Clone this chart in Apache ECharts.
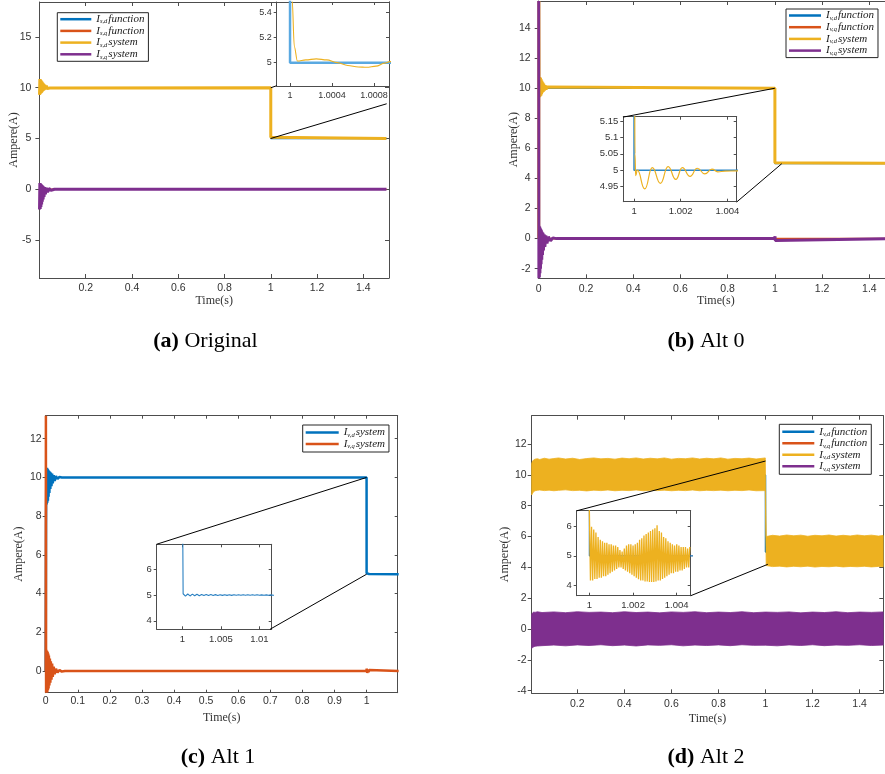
<!DOCTYPE html>
<html>
<head>
<meta charset="utf-8">
<script src="https://cdn.jsdelivr.net/npm/echarts@6/dist/echarts.min.js"></script>
<style>
  html, body { margin: 0; padding: 0; background: #fff; }
  #chart { width: 885px; height: 774px; }
</style>
</head>
<body>
<div id="chart"></div>
<script>
// ---------- (a) Original ----------
const aTickX = [0.2, 0.4, 0.6, 0.8, 1, 1.2, 1.4];
const aTickY = [-5, 0, 5, 10, 15];
const aInsetTickX = [1, 1.0004, 1.0008];
const aInsetTickY = [5, 5.2, 5.4];
const aFnDTime = [0, 1, 1, 1.5];
const aFnD = [10, 10, 5, 5];
const aFnQTime = [0, 1.5];
const aFnQ = [0, 0];
const aSysDTime = [0.0005, 0.002, 0.0035, 0.005, 0.0065, 0.008, 0.0095, 0.011, 0.0125, 0.014,
  0.016, 0.018, 0.02, 0.023, 0.026, 0.03, 0.034, 0.039, 0.045, 0.05,
  1.0, 1.00002, 1.000041, 1.00007, 1.00015, 1.00025, 1.00035, 1.00045, 1.00055, 1.00065,
  1.00073, 1.00082, 1.0009, 1.00095, 1.0012, 1.5];
const aSysD = [9.3, 10.85, 9.35, 10.8, 9.45, 10.7, 9.5, 10.6, 9.6, 10.5,
  9.7, 10.4, 9.78, 10.3, 9.85, 10.2, 9.92, 10.1, 9.97, 10.0,
  10.0, 5.5, 5.127, 5.013, 5.022, 5.03, 5.022, 5.0, 4.977, 4.966,
  4.963, 4.972, 4.996, 5.008, 5.01, 5.0];
const aSysQTime = [0.0005, 0.002, 0.0035, 0.005, 0.0065, 0.008, 0.0095, 0.011, 0.0125, 0.014,
  0.016, 0.018, 0.02, 0.023, 0.026, 0.03, 0.035, 0.041, 0.05, 0.065,
  0.999, 1.0005, 1.0015, 1.003, 1.5];
const aSysQ = [-2.0, 0.6, -1.95, 0.55, -1.75, 0.48, -1.5, 0.4, -1.25, 0.33,
  -1.0, 0.26, -0.75, 0.2, -0.5, 0.14, -0.3, 0.08, -0.12, 0.0,
  0.0, 0.12, -0.1, 0.0, 0.0];
const aLinks = [[[1, 10], [1.026, 10.2]], [[1, 5], [1.501, 8.42]]];

// ---------- (b) Alt 0 ----------
const bTickX = [0, 0.2, 0.4, 0.6, 0.8, 1, 1.2, 1.4];
const bTickY = [-2, 0, 2, 4, 6, 8, 10, 12, 14];
const bInsetTickX = [1, 1.002, 1.004];
const bInsetTickY = [4.95, 5, 5.05, 5.1, 5.15];
const bFnDTime = [0, 1, 1, 1.5];
const bFnD = [10, 10, 5, 5];
const bFnQTime = [0, 1.5];
const bFnQ = [0, 0];
const bSysDTime = [0, 0.0008, 0.0016, 0.003, 0.0045, 0.006, 0.0075, 0.009, 0.0105, 0.012,
  0.0135, 0.015, 0.017, 0.019, 0.021, 0.024, 0.027, 0.031, 0.036, 0.042,
  1.0, 1.00002, 1.00004, 1.00007, 1.00014, 1.00046, 1.00078, 1.00113, 1.00146, 1.00179,
  1.00207, 1.0024, 1.00271, 1.00303, 1.00334, 1.00359, 1.0039, 1.0044, 1.005, 1.5];
const bSysD = [0, 15.8, 10.3, 9.4, 10.75, 9.45, 10.7, 9.5, 10.6, 9.6,
  10.5, 9.7, 10.4, 9.75, 10.3, 9.85, 10.2, 9.92, 10.08, 10.0,
  10.0, 5.4, 5.05, 4.983, 5.0, 4.943, 5.008, 4.96, 5.011, 4.972,
  5.008, 4.981, 5.006, 4.989, 5.003, 4.995, 4.997, 4.998, 5.0, 5.0];
const bSysQTime = [0, 0.0008, 0.0016, 0.0028, 0.004, 0.0052, 0.0064, 0.0076, 0.0088, 0.01,
  0.0115, 0.013, 0.0145, 0.016, 0.018, 0.02, 0.023, 0.026, 0.03, 0.035,
  0.041, 0.05, 0.06, 0.075, 0.999, 1.0005, 1.0015, 1.003, 1.5];
const bSysQ = [15.8, -2.64, 0.85, -2.55, 0.8, -2.3, 0.72, -2.0, 0.64, -1.7,
  0.55, -1.4, 0.46, -1.1, 0.38, -0.8, 0.28, -0.55, 0.2, -0.33,
  0.12, -0.15, 0.05, 0.0, 0.0, 0.15, -0.12, 0.0, 0.0];
const bLinks = [[[1, 10], [0.358, 8.08]], [[1.029, 4.98], [0.838, 2.43]]];

// ---------- (c) Alt 1 ----------
const cTickX = [0, 0.1, 0.2, 0.3, 0.4, 0.5, 0.6, 0.7, 0.8, 0.9, 1];
const cTickY = [0, 2, 4, 6, 8, 10, 12];
const cInsetTickX = [1, 1.005, 1.01];
const cInsetTickY = [4, 5, 6];
const cSysDTime = [0, 0.001, 0.002, 0.003, 0.004, 0.005, 0.006, 0.007, 0.008, 0.009,
  0.01, 0.0115, 0.013, 0.0145, 0.016, 0.018, 0.02, 0.022, 0.025, 0.028,
  0.032, 0.037, 0.043, 0.05, 1.0, 1.0001,
  1.0004, 1.0007, 1.001, 1.0013, 1.0016, 1.0019, 1.0022, 1.0025, 1.0028, 1.0031,
  1.0034, 1.0037, 1.004, 1.0043, 1.0046, 1.0049, 1.0052, 1.0055, 1.0058, 1.0061,
  1.0064, 1.0067, 1.007, 1.0073, 1.0076, 1.0079, 1.0082, 1.0085, 1.0088, 1.0091,
  1.0094, 1.0097, 1.01, 1.0103, 1.0106, 1.0109, 1.0112, 1.0115, 1.0118, 1.1];
const cSysD = [0, 7.5, 10.5, 8.6, 10.5, 8.7, 10.45, 8.8, 10.4, 9.0,
  10.35, 9.2, 10.3, 9.4, 10.25, 9.55, 10.2, 9.7, 10.12, 9.82,
  10.07, 9.92, 10.03, 10.0, 10.0, 5.05,
  4.96, 5.04, 4.965, 5.035, 4.97, 5.03, 4.975, 5.025, 4.98, 5.02,
  4.982, 5.018, 4.984, 5.016, 4.986, 5.015, 4.987, 5.014, 4.988, 5.013,
  4.988, 5.012, 4.99, 5.012, 4.99, 5.011, 4.99, 5.01, 4.99, 5.01,
  4.992, 5.01, 4.992, 5.008, 4.992, 5.008, 4.993, 5.007, 4.994, 5.0];
const cSysQTime = [0, 0.0006, 0.0012, 0.002, 0.003, 0.004, 0.005, 0.006, 0.007, 0.008,
  0.009, 0.01, 0.0115, 0.013, 0.0145, 0.016, 0.018, 0.02, 0.022, 0.025,
  0.028, 0.032, 0.037, 0.043, 0.05, 0.06,
  0.999, 1.0005, 1.002, 1.004, 1.006, 1.008, 1.01, 1.1];
const cSysQ = [0, 13.19, -1.12, 1.1, -1.12, 1.05, -1.1, 1.0, -1.0, 0.9,
  -0.9, 0.8, -0.75, 0.65, -0.6, 0.5, -0.45, 0.38, -0.3, 0.22,
  -0.17, 0.12, -0.08, 0.05, -0.03, 0,
  0, 0.12, -0.1, 0.08, -0.06, 0.05, 0, 0];
const cLinks = [[[1, 10], [0.346, 6.55]], [[1, 5], [0.699, 2.155]]];

// ---------- (d) Alt 2 ----------
const dTickX = [0.2, 0.4, 0.6, 0.8, 1, 1.2, 1.4];
const dTickY = [-4, -2, 0, 2, 4, 6, 8, 10, 12];
const dInsetTickX = [1, 1.002, 1.004];
const dInsetTickY = [4, 5, 6];
const dFnDTime = [0.006, 1, 1, 1.5];
const dFnD = [10, 10, 5, 5];
const dFnQTime = [0.006, 1.5];
const dFnQ = [0, 0];
const dBandDTime = [0.006, 0.01, 0.015, 0.02, 0.03, 0.04, 0.06, 0.08, 0.1, 0.12,
  0.15, 0.18, 0.21, 0.24, 0.27, 0.3, 0.33, 0.36, 0.39, 0.42,
  0.45, 0.48, 0.51, 0.54, 0.57, 0.6, 0.63, 0.66, 0.69, 0.72,
  0.75, 0.78, 0.81, 0.84, 0.87, 0.9, 0.93, 0.96, 0.999,
  1.003, 1.03, 1.06, 1.09, 1.12, 1.15, 1.18, 1.21, 1.24, 1.27,
  1.3, 1.33, 1.36, 1.39, 1.42, 1.45, 1.48, 1.5];
const dBandDHigh = [10.75, 10.9, 10.98, 11.02, 11.05, 11.0, 11.08, 11.02, 11.06, 11.1,
  11.03, 11.08, 11.0, 11.06, 11.1, 11.04, 11.07, 11.02, 11.09, 11.05,
  11.1, 11.03, 11.08, 11.04, 11.1, 11.02, 11.07, 11.05, 11.1, 11.03,
  11.08, 11.04, 11.1, 11.02, 11.07, 11.05, 11.09, 11.03, 11.1,
  6.0, 6.08, 6.03, 6.1, 6.05, 6.09, 6.02, 6.08, 6.05, 6.1,
  6.03, 6.08, 6.04, 6.1, 6.05, 6.09, 6.03, 6.07];
const dBandDLow = [8.7, 8.82, 8.92, 8.97, 9.0, 9.02, 8.98, 9.01, 8.97, 9.0,
  9.03, 8.98, 9.0, 8.96, 9.01, 8.98, 9.02, 8.97, 9.0, 8.98,
  9.02, 8.97, 9.0, 8.98, 9.01, 8.97, 9.0, 8.98, 9.02, 8.97,
  9.0, 8.98, 9.01, 8.97, 9.0, 8.98, 9.02, 8.97, 8.98,
  4.12, 4.05, 4.08, 4.03, 4.07, 4.04, 4.08, 4.02, 4.06, 4.04,
  4.08, 4.03, 4.06, 4.04, 4.07, 4.03, 4.06, 4.04];
const dBandQTime = [0.006, 0.01, 0.015, 0.02, 0.03, 0.05, 0.1, 0.15, 0.2, 0.25,
  0.3, 0.35, 0.4, 0.45, 0.5, 0.55, 0.6, 0.65, 0.7, 0.75,
  0.8, 0.85, 0.9, 0.95, 1.0, 1.05, 1.1, 1.15, 1.2, 1.25,
  1.3, 1.35, 1.4, 1.45, 1.5];
const dBandQHigh = [0.95, 1.05, 1.1, 1.08, 1.12, 1.07, 1.11, 1.06, 1.12, 1.08,
  1.1, 1.06, 1.12, 1.07, 1.1, 1.05, 1.11, 1.08, 1.12, 1.06,
  1.1, 1.07, 1.12, 1.06, 1.1, 1.08, 1.11, 1.05, 1.1, 1.07,
  1.12, 1.06, 1.1, 1.08, 1.11];
const dBandQLow = [-1.25, -1.2, -1.15, -1.12, -1.1, -1.08, -1.04, -1.09, -1.03, -1.07,
  -1.02, -1.08, -1.04, -1.1, -1.03, -1.06, -1.02, -1.09, -1.04, -1.07,
  -1.03, -1.08, -1.02, -1.06, -1.05, -1.09, -1.03, -1.07, -1.02, -1.08,
  -1.04, -1.06, -1.02, -1.07, -1.04];
// switching ripple right after the step: crest / trough samples
const dSpikeHighTime = [1.0000, 1.0001, 1.0002, 1.0003, 1.0004, 1.0005, 1.0006, 1.0007, 1.0008, 1.0009,
  1.0010, 1.0011, 1.0012, 1.0013, 1.0014, 1.0015, 1.0016, 1.0017, 1.0018, 1.0019,
  1.0020, 1.0021, 1.0022, 1.0023, 1.0024, 1.0025, 1.0026, 1.0027, 1.0028, 1.0029,
  1.0030, 1.0031, 1.0032, 1.0033, 1.0034, 1.0035, 1.0036, 1.0037, 1.0038, 1.0039,
  1.0040, 1.0041, 1.0042, 1.0043, 1.0044, 1.0045, 1.0046];
const dSpikeHigh = [6.55, 6.0, 5.9, 5.8, 5.65, 5.55, 5.5, 5.45, 5.45, 5.4,
  5.4, 5.35, 5.35, 5.3, 5.2, 5.15, 5.25, 5.35, 5.4, 5.4,
  5.35, 5.4, 5.45, 5.55, 5.6, 5.7, 5.75, 5.8, 5.85, 5.9,
  5.95, 6.05, 5.85, 5.8, 5.65, 5.6, 5.5, 5.45, 5.4, 5.35,
  5.4, 5.35, 5.3, 5.3, 5.3, 5.25, 5.3];
const dSpikeLowTime = [1.00005, 1.00015, 1.00025, 1.00035, 1.00045, 1.00055, 1.00065, 1.00075, 1.00085, 1.00095,
  1.00105, 1.00115, 1.00125, 1.00135, 1.00145, 1.00155, 1.00165, 1.00175, 1.00185, 1.00195,
  1.00205, 1.00215, 1.00225, 1.00235, 1.00245, 1.00255, 1.00265, 1.00275, 1.00285, 1.00295,
  1.00305, 1.00315, 1.00325, 1.00335, 1.00345, 1.00355, 1.00365, 1.00375, 1.00385, 1.00395,
  1.00405, 1.00415, 1.00425, 1.00435, 1.00445, 1.00455];
const dSpikeLow = [4.15, 4.15, 4.2, 4.2, 4.25, 4.25, 4.3, 4.3, 4.35, 4.4,
  4.45, 4.5, 4.55, 4.6, 4.6, 4.55, 4.5, 4.45, 4.4, 4.35,
  4.3, 4.25, 4.2, 4.15, 4.15, 4.12, 4.12, 4.1, 4.1, 4.1,
  4.12, 4.15, 4.15, 4.2, 4.25, 4.3, 4.35, 4.4, 4.4, 4.45,
  4.45, 4.5, 4.5, 4.55, 4.6, 4.6];
const dLinks = [[[1, 10.9], [0.1975, 7.67]], [[1.01, 4.2], [0.682, 2.16]]];

// ---------- styling ----------
const C = { blue: '#0072BD', orange: '#D95319', yellow: '#EDB120', purple: '#7E2F8E' };
const AXIS = '#4d4d4d';
const SANS = 'Liberation Sans';
const SERIF = 'Liberation Serif';

const zip = (t, v) => t.map((x, i) => [x, v[i]]);
const fmt = v => String(parseFloat(Number(v).toFixed(6)));

const grids = [], xAxes = [], yAxes = [], series = [], legends = [];

function addPlot(p) {
  const g = grids.length;
  const inset = !!p.inset;
  const [left, top, width, height] = p.rect;
  grids.push({ left, top, width, height, show: inset, backgroundColor: '#fff', borderWidth: 0,
    z: inset ? 3 : 0, containLabel: false, outerBoundsMode: 'none' });
  const az = inset ? 4 : 1;
  const line = { show: true, onZero: false, lineStyle: { color: AXIS, width: 1 } };
  const lab = { fontSize: p.fontSize, fontFamily: SANS, color: '#333', formatter: fmt };
  const serifName = { fontFamily: SERIF, fontSize: 12, color: '#333' };
  xAxes.push({ type: 'value', gridIndex: g, position: 'bottom', min: p.x[0], max: p.x[1], z: az,
    axisLine: line, splitLine: { show: false },
    axisTick: { show: true, inside: true, length: p.tickLen, customValues: p.xTicks, lineStyle: { color: AXIS } },
    axisLabel: Object.assign({ show: true, customValues: p.xTicks, margin: p.xMargin }, lab),
    name: p.xName || '', nameLocation: 'middle', nameGap: p.xNameGap || 0, nameMoveOverlap: false, nameTextStyle: serifName });
  xAxes.push({ type: 'value', gridIndex: g, position: 'top', min: p.x[0], max: p.x[1], z: az,
    axisLine: line, splitLine: { show: false },
    axisTick: { show: true, inside: true, length: p.tickLen, customValues: p.xTicks, lineStyle: { color: AXIS } },
    axisLabel: { show: false } });
  yAxes.push({ type: 'value', gridIndex: g, position: 'left', min: p.y[0], max: p.y[1], z: az,
    axisLine: line, splitLine: { show: false },
    axisTick: { show: true, inside: false, length: p.tickLen, customValues: p.yTicks, lineStyle: { color: AXIS } },
    axisLabel: Object.assign({ show: true, customValues: p.yTicks, margin: p.yMargin }, lab),
    name: p.yName || '', nameLocation: 'middle', nameRotate: 90, nameGap: p.yNameGap || 0, nameMoveOverlap: false, nameTextStyle: serifName });
  yAxes.push({ type: 'value', gridIndex: g, position: 'right', min: p.y[0], max: p.y[1], z: az,
    axisLine: line, splitLine: { show: false },
    axisTick: { show: true, inside: true, length: p.tickLen, customValues: p.yTicks, lineStyle: { color: AXIS } },
    axisLabel: { show: false } });
  return g;
}

function addLine(g, name, data, color, width, extra) {
  series.push(Object.assign({
    type: 'line', name, xAxisIndex: 2 * g, yAxisIndex: 2 * g, data,
    symbol: 'none', showSymbol: false, clip: true, animation: false, silent: true,
    lineStyle: { color, width }, itemStyle: { color }, z: 2
  }, extra || {}));
}

function addBand(g, name, times, low, high, color) {
  const rows = times.map((t, i) => [t, low[i], high[i]]);
  series.push({
    type: 'custom', name, xAxisIndex: 2 * g, yAxisIndex: 2 * g, data: rows,
    encode: { x: 0, y: [1, 2] }, itemStyle: { color }, clip: true, animation: false, silent: true, z: 3,
    renderItem: (params, api) => {
      if (params.dataIndex !== 0) return null;
      const upper = rows.map(r => api.coord([r[0], r[2]]));
      const lower = rows.map(r => api.coord([r[0], r[1]])).reverse();
      return { type: 'polygon', shape: { points: upper.concat(lower) },
        style: { fill: color, stroke: color, lineWidth: 0.8 } };
    }
  });
}

function addLinks(g, links) {
  series.push({
    type: 'lines', coordinateSystem: 'cartesian2d', xAxisIndex: 2 * g, yAxisIndex: 2 * g,
    data: links.map(c => ({ coords: c })), silent: true, animation: false, z: 6,
    lineStyle: { color: '#000', width: 1, opacity: 1, curveness: 0 }
  });
}

const LABELS = {};
const RICH = {
  i: { fontFamily: SERIF, fontStyle: 'italic', fontSize: 11, lineHeight: 12, color: '#1a1a1a' },
  s: { fontFamily: SERIF, fontStyle: 'italic', fontSize: 6.5, lineHeight: 6, verticalAlign: 'bottom', color: '#1a1a1a', padding: [0, 1, 0, 0] },
  t: { fontFamily: SERIF, fontStyle: 'italic', fontSize: 11, lineHeight: 12, color: '#1a1a1a' }
};
function addLegend(names, left, top, pad, lineLen, gap) {
  legends.push({
    data: names, left, top, orient: 'vertical', icon: 'rect', itemWidth: lineLen, itemHeight: 2.5,
    itemGap: gap, padding: pad, borderColor: '#262626', borderWidth: 1, backgroundColor: '#fff',
    selectedMode: false, z: 10, itemStyle: { borderWidth: 0 },
    formatter: n => `{i|I}{s|${LABELS[n][0]}}{t|${LABELS[n][1]}}`,
    textStyle: { rich: RICH, color: '#1a1a1a', padding: [0, 0, 0, 0] }
  });
}

// ---------- (a) ----------
const gA = addPlot({ rect: [39.4, 2, 349.6, 276], x: [0, 1.511], y: [-8.75, 18.45], xTicks: aTickX, yTicks: aTickY,
  fontSize: 10.5, tickLen: 4, xMargin: 5, yMargin: 8, xName: 'Time(s)', xNameGap: 17, yName: 'Ampere(A)', yNameGap: 20 });
const gAi = addPlot({ rect: [276.7, 2, 112.3, 84], x: [0.999873, 1.000943], y: [4.815, 5.48], xTicks: aInsetTickX, yTicks: aInsetTickY,
  fontSize: 9, tickLen: 3, xMargin: 5, yMargin: 5, inset: true });
addLine(gA, 'a-isd-fn', zip(aFnDTime, aFnD), C.blue, 1.6, { z: 1 });
addLine(gA, 'a-isq-fn', zip(aFnQTime, aFnQ), C.orange, 1.6, { z: 1 });
addLine(gA, 'a-isd-sys', zip(aSysDTime, aSysD), C.yellow, 3);
addLine(gA, 'a-isq-sys', zip(aSysQTime, aSysQ), C.purple, 3);
addLine(gAi, 'a-isd-fn-zoom', zip(aFnDTime, aFnD), '#5aa9e1', 2.5, { z: 5 });
addLine(gAi, 'a-isd-sys-zoom', zip(aSysDTime, aSysD), C.yellow, 1.1, { z: 5, smooth: 0.35, smoothMonotone: 'x' });
addLinks(gA, aLinks);
Object.assign(LABELS, { 'a-isd-fn': ['s,d', 'function'], 'a-isq-fn': ['s,q', 'function'], 'a-isd-sys': ['s,d', 'system'], 'a-isq-sys': ['s,q', 'system'] });
addLegend(['a-isd-fn', 'a-isq-fn', 'a-isd-sys', 'a-isq-sys'], 57.3, 12.7, [1, 4, 1, 3], 31, 0.2);

// ---------- (b) ----------
const gB = addPlot({ rect: [538.7, 1, 354.3, 277.3], x: [0, 1.5], y: [-2.64, 15.8], xTicks: bTickX, yTicks: bTickY,
  fontSize: 10.5, tickLen: 4, xMargin: 5.5, yMargin: 8, xName: 'Time(s)', xNameGap: 17, yName: 'Ampere(A)', yNameGap: 19 });
const gBi = addPlot({ rect: [623.3, 116.7, 113.4, 85], x: [0.99954, 1.0044], y: [4.904, 5.163], xTicks: bInsetTickX, yTicks: bInsetTickY,
  fontSize: 9.5, tickLen: 3, xMargin: 5, yMargin: 5, inset: true });
addLine(gB, 'b-ivd-fn', zip(bFnDTime, bFnD), C.blue, 1.6, { z: 1 });
addLine(gB, 'b-ivq-fn', zip(bFnQTime, bFnQ), C.orange, 1.6, { z: 1 });
addLine(gB, 'b-ivd-sys', zip(bSysDTime, bSysD), C.yellow, 3);
addLine(gB, 'b-ivq-sys', zip(bSysQTime, bSysQ), C.purple, 3);
addLine(gBi, 'b-ivd-fn-zoom', zip(bFnDTime, bFnD), '#2a86c8', 1.5, { z: 5 });
addLine(gBi, 'b-ivd-sys-zoom', zip(bSysDTime, bSysD), C.yellow, 1.2, { z: 5, smooth: 0.5, smoothMonotone: 'x' });
addLinks(gB, bLinks);
Object.assign(LABELS, { 'b-ivd-fn': ['v,d', 'function'], 'b-ivq-fn': ['v,q', 'function'], 'b-ivd-sys': ['v,d', 'system'], 'b-ivq-sys': ['v,q', 'system'] });
addLegend(['b-ivd-fn', 'b-ivq-fn', 'b-ivd-sys', 'b-ivq-sys'], 786, 9, [1, 4, 1, 3], 32, 0.2);

// ---------- (c) ----------
const gC = addPlot({ rect: [45.7, 415.7, 352, 277], x: [0, 1.097], y: [-1.12, 13.19], xTicks: cTickX, yTicks: cTickY,
  fontSize: 10.5, tickLen: 3, xMargin: 3, yMargin: 4, xName: 'Time(s)', xNameGap: 19.5, yName: 'Ampere(A)', yNameGap: 21 });
const gCi = addPlot({ rect: [156.7, 544.3, 115, 85], x: [0.99667, 1.0116], y: [3.67, 6.97], xTicks: cInsetTickX, yTicks: cInsetTickY,
  fontSize: 9.5, tickLen: 3, xMargin: 5, yMargin: 5, inset: true });
addLine(gC, 'c-ivd-sys', zip(cSysDTime, cSysD), C.blue, 2.5);
addLine(gC, 'c-ivq-sys', zip(cSysQTime, cSysQ), C.orange, 2.5);
addLine(gCi, 'c-ivd-sys-zoom', zip(cSysDTime, cSysD), '#2a80c2', 1.1, { z: 5 });
addLinks(gC, cLinks);
Object.assign(LABELS, { 'c-ivd-sys': ['v,d', 'system'], 'c-ivq-sys': ['v,q', 'system'] });
addLegend(['c-ivd-sys', 'c-ivq-sys'], 302.7, 425, [2, 4, 2, 3], 33, 0);

// ---------- (d) ----------
const gD = addPlot({ rect: [531.7, 415.7, 351.6, 277.6], x: [0.006, 1.5008], y: [-4.17, 13.84], xTicks: dTickX, yTicks: dTickY,
  fontSize: 10.5, tickLen: 4, xMargin: 5.5, yMargin: 5, xName: 'Time(s)', xNameGap: 19.5, yName: 'Ampere(A)', yNameGap: 20.5 });
const gDi = addPlot({ rect: [576.7, 510.7, 114, 85], x: [0.99942, 1.00464], y: [3.63, 6.55], xTicks: dInsetTickX, yTicks: dInsetTickY,
  fontSize: 9.5, tickLen: 3, xMargin: 5, yMargin: 5, inset: true });
addLine(gD, 'd-ivd-fn', zip(dFnDTime, dFnD), C.blue, 1.5);
addLine(gD, 'd-ivq-fn', zip(dFnQTime, dFnQ), C.orange, 1.5);
addBand(gD, 'd-ivd-sys', dBandDTime, dBandDLow, dBandDHigh, C.yellow);
addBand(gD, 'd-ivq-sys', dBandQTime, dBandQLow, dBandQHigh, C.purple);
addLine(gDi, 'd-ivd-fn-zoom', zip(dFnDTime, dFnD), '#1f6fae', 1.2, { z: 5 });
const dInsetSys = [[0.999, 10], [1.0, 10]];
dSpikeHighTime.forEach((t, i) => {
  dInsetSys.push([t, dSpikeHigh[i]]);
  if (i < dSpikeLowTime.length) dInsetSys.push([dSpikeLowTime[i], dSpikeLow[i]]);
});
addLine(gDi, 'd-ivd-sys-zoom', dInsetSys, C.yellow, 1.3, { z: 6 });
addLinks(gD, dLinks);
Object.assign(LABELS, { 'd-ivd-fn': ['v,d', 'function'], 'd-ivq-fn': ['v,q', 'function'], 'd-ivd-sys': ['v,d', 'system'], 'd-ivq-sys': ['v,q', 'system'] });
addLegend(['d-ivd-fn', 'd-ivq-fn', 'd-ivd-sys', 'd-ivq-sys'], 779.3, 424.3, [2, 4, 2, 3], 32, 0);

// ---------- sub-figure captions ----------
const capRich = {
  b: { fontFamily: SERIF, fontWeight: 'bold', fontSize: 22, fill: '#000' },
  n: { fontFamily: SERIF, fontSize: 22, fill: '#000' }
};
const caption = (x, y, tag, text) => ({
  type: 'text', x, y, silent: true, z: 20,
  style: { text: `{b|${tag}}{n| ${text}}`, rich: capRich, align: 'center', verticalAlign: 'middle' }
});

const chart = echarts.init(document.getElementById('chart'));
chart.setOption({
  animation: false,
  backgroundColor: '#fff',
  grid: grids,
  xAxis: xAxes,
  yAxis: yAxes,
  legend: legends,
  series,
  graphic: [
    caption(205.5, 341, '(a)', 'Original'),
    caption(706, 341, '(b)', 'Alt 0'),
    caption(218, 757, '(c)', 'Alt 1'),
    caption(706, 757, '(d)', 'Alt 2')
  ]
});
</script>
</body>
</html>
